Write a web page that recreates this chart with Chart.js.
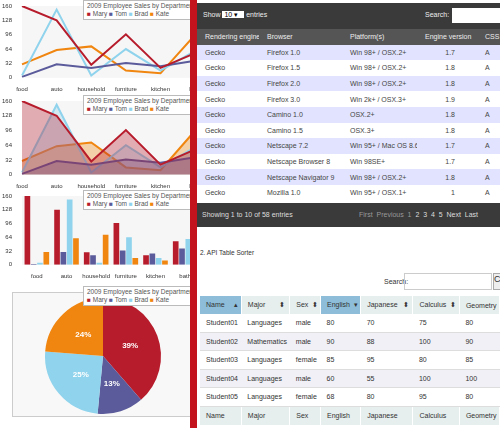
<!DOCTYPE html>
<html><head><meta charset="utf-8">
<script src="https://cdn.jsdelivr.net/npm/chart.js@4"></script>
<style>
body{margin:0;width:500px;height:428px;overflow:hidden;background:#fff;font-family:"Liberation Sans",Arial,sans-serif;position:relative}
.box{position:absolute;left:0;width:190px;overflow:hidden}
.box canvas{position:absolute;left:0;top:0}
.leg{position:absolute;background:#fff;border:1px solid #bbb;font-size:6.5px;color:#555;padding:1px 3px;line-height:8px;white-space:nowrap;z-index:3}
.red{position:absolute;left:190px;top:0;width:7px;height:428px;background:#c3141d}
.t1{position:absolute;left:197px;top:0;width:303px;height:228px;background:#fff;font-size:7px;overflow:hidden}
.bar1{position:absolute;left:0;top:3px;width:303px;height:26px;background:#3a3a3a;color:#eee}
table{border-collapse:collapse}
.dt{table-layout:fixed}
.dt td{height:15.6px;padding:0 0 0 8px;color:#444;white-space:nowrap;overflow:hidden}
.foot{position:absolute;left:0;top:203px;width:303px;height:24px;background:#3a3a3a;color:#ddd;font-size:7px}
.t2{position:absolute;left:197px;top:240px;width:303px;font-size:7px;color:#333}
.ts td{height:17.5px;padding:0 0 0 6px;white-space:nowrap;border-bottom:1px solid #ddd}
.ts th{font-weight:normal;text-align:left;padding:0 0 0 6px;height:18px;background:#e6eeee;border-right:1px solid #fff;white-space:nowrap}
</style></head><body>
<div class="box" style="top:0;height:93px"><canvas id="c1" width="201" height="93" style="width:201px;height:93px"></canvas>
<div class="leg" style="left:83px;top:0px">2009 Employee Sales by Department<br><span style="color:#b71c2c">■</span> Mary <span style="color:#5b5b9b">■</span> Tom <span style="color:#8fd3ec">■</span> Brad <span style="color:#f0850f">■</span> Kate</div></div>
<div class="box" style="top:95px;height:95px"><canvas id="c2" width="201" height="95" style="width:201px;height:95px"></canvas>
<div class="leg" style="left:83px;top:0px">2009 Employee Sales by Department<br><span style="color:#b71c2c">■</span> Mary <span style="color:#5b5b9b">■</span> Tom <span style="color:#8fd3ec">■</span> Brad <span style="color:#f0850f">■</span> Kate</div></div>
<div class="box" style="top:190px;height:90px"><canvas id="c3" width="200" height="90" style="width:200px;height:90px"></canvas>
<div class="leg" style="left:83px;top:0px">2009 Employee Sales by Department<br><span style="color:#b71c2c">■</span> Mary <span style="color:#5b5b9b">■</span> Tom <span style="color:#8fd3ec">■</span> Brad <span style="color:#f0850f">■</span> Kate</div></div>
<div class="box" style="top:280px;height:148px"><div style="position:absolute;left:12px;top:12px;width:185px;height:123px;background:#f8f8f8;border:1px solid #ccc"></div><canvas id="c4" width="190" height="148" style="width:190px;height:148px"></canvas>
<div class="leg" style="left:83px;top:6px">2009 Employee Sales by Department<br><span style="color:#b71c2c">■</span> Mary <span style="color:#5b5b9b">■</span> Tom <span style="color:#8fd3ec">■</span> Brad <span style="color:#f0850f">■</span> Kate</div></div>
<div class="red"></div>
<div class="t1">
<div class="bar1"><span style="position:absolute;left:6px;top:8px">Show <span style="background:#fff;color:#000;padding:0 6px 0 2px">10 ▾</span> entries</span><span style="position:absolute;left:228px;top:8px">Search:</span><span style="position:absolute;left:255px;top:5px;width:50px;height:15px;background:#fff"></span></div>
<table class="dt" style="position:absolute;left:0;top:29px;width:310px">
<colgroup><col style="width:62px"><col style="width:83px"><col style="width:75px"><col style="width:60px"><col style="width:30px"></colgroup>
<tr style="background:#555;color:#eee"><td style="color:#eee">Rendering engine &nbsp; ▴</td><td style="color:#eee">Browser</td><td style="color:#eee">Platform(s)</td><td style="color:#eee">Engine version</td><td style="color:#eee">CSS grade</td></tr>
<tbody id="rows"></tbody></table>
<div class="foot"><span style="position:absolute;left:5px;top:8px">Showing 1 to 10 of 58 entries</span><span style="position:absolute;left:162px;top:8px;color:#999">First &nbsp;Previous &nbsp;1 &nbsp;<span style="color:#ddd">2 &nbsp;3 &nbsp;4 &nbsp;5 &nbsp;Next &nbsp;Last</span></span></div>
</div>
<div class="t2">
<div style="position:absolute;left:3px;top:9px;font-size:6.5px">2. API Table Sorter</div>
<span style="position:absolute;left:187px;top:38px">Search:</span><span style="position:absolute;left:207px;top:33px;width:86px;height:15px;border:1px solid #ccc"></span><span style="position:absolute;left:296px;top:33px;width:10px;height:15px;border:1px solid #aaa;background:#eee;font-size:9px">C</span>
<table class="ts" style="position:absolute;left:3px;top:56px;width:300px">
<tr><th style="background:#8dbdd8">Name &nbsp; &nbsp; ▴</th><th>Major &nbsp; &nbsp; &nbsp; ⬍</th><th>Sex &nbsp;⬍</th><th style="background:#8dbdd8">English &nbsp;▾</th><th>Japanese &nbsp; ⬍</th><th>Calculus &nbsp;⬍</th><th>Geometry</th></tr>
<tbody id="rows2"></tbody>
<tr><th>Name</th><th>Major</th><th>Sex</th><th>English</th><th>Japanese</th><th>Calculus</th><th>Geometry</th></tr>
</table></div>
<script>
const categories=["food","auto","household","furniture","kitchen","bath"];
const mary=[160,128,29,97,22,55];
const tom=[2,30,22,33,26,38];
const brad=[5,152,5,64,16,60];
const kate=[30,62,70,16,10,96];
const yTicks=[0,32,64,96,128,160];
const pieLabels=["Mary","Tom","Brad","Kate"];
const pieValues=[39,13,25,24];
const colors=["#b71c2c","#5b5b9b","#8fd3ec","#f0850f"];
const engines=[["Gecko","Firefox 1.0","Win 98+ / OSX.2+","1.7","A"],["Gecko","Firefox 1.5","Win 98+ / OSX.2+","1.8","A"],["Gecko","Firefox 2.0","Win 98+ / OSX.2+","1.8","A"],["Gecko","Firefox 3.0","Win 2k+ / OSX.3+","1.9","A"],["Gecko","Camino 1.0","OSX.2+","1.8","A"],["Gecko","Camino 1.5","OSX.3+","1.8","A"],["Gecko","Netscape 7.2","Win 95+ / Mac OS 8.6-9.2","1.7","A"],["Gecko","Netscape Browser 8","Win 98SE+","1.7","A"],["Gecko","Netscape Navigator 9","Win 98+ / OSX.2+","1.8","A"],["Gecko","Mozilla 1.0","Win 95+ / OSX.1+","1","A"]];
const students=[["Student01","Languages","male","80","70","75","80"],["Student02","Mathematics","male","90","88","100","90"],["Student03","Languages","female","85","95","80","85"],["Student04","Languages","male","60","55","100","100"],["Student05","Languages","female","68","80","95","80"]];
let h='';engines.forEach((r,i)=>{h+=`<tr style="background:${i%2?'#fff':'#e2e4ff'}"><td>${r[0]}</td><td>${r[1]}</td><td>${r[2]}</td><td style="text-align:right;padding-right:22px">${r[3]}</td><td>${r[4]}</td></tr>`});
document.getElementById('rows').innerHTML=h;
h='';students.forEach((r,i)=>{h+=`<tr style="background:${i%2?'#f0f0f6':'#fff'}">`+r.map(c=>`<td>${c}</td>`).join('')+'</tr>'});
document.getElementById('rows2').innerHTML=h;
Chart.defaults.font.family='"Liberation Sans",Arial';Chart.defaults.font.size=6;Chart.defaults.color='#333';
const bg={id:'bg',beforeDraw(c){const a=c.chartArea,x=c.ctx;if(!a)return;x.save();x.fillStyle='#f6f6f6';x.fillRect(a.left,a.top,a.right-a.left,a.bottom-a.top);x.restore();}};
function scales(offset){return{x:{offset:offset,grid:{display:false},border:{display:false},ticks:{autoSkip:false,maxRotation:0,padding:0}},y:{min:0,max:160,afterBuildTicks:s=>{s.ticks=yTicks.map(v=>({value:v}))},grid:{display:false},border:{display:false},ticks:{padding:2}}}}
const series=[mary,tom,brad,kate];
function lineDs(fill){return series.map((d,i)=>({label:pieLabels[i],data:d,borderColor:colors[i],backgroundColor:colors[i]+'55',borderWidth:2,pointRadius:0,tension:0,fill:fill?'origin':false}))}
const base={responsive:false,animation:false,plugins:{legend:{display:false},tooltip:{enabled:false}},layout:{padding:{top:6,right:0,left:0,bottom:0}}};
new Chart('c1',{type:'line',data:{labels:categories,datasets:lineDs(false)},options:{...base,scales:scales(false)},plugins:[bg]});
new Chart('c2',{type:'line',data:{labels:categories,datasets:lineDs(true)},options:{...base,scales:scales(false)},plugins:[bg]});
new Chart('c3',{type:'bar',data:{labels:categories,datasets:series.map((d,i)=>({label:pieLabels[i],data:d,backgroundColor:colors[i],barPercentage:0.9,categoryPercentage:0.85}))},options:{...base,scales:scales(true)},plugins:[bg]});
const lbl={id:'lbl',afterDatasetsDraw(c){const x=c.ctx;const m=c.getDatasetMeta(0);x.save();x.fillStyle='#fff';x.font='bold 8px "Liberation Sans"';x.textAlign='center';x.textBaseline='middle';m.data.forEach((a,i)=>{const p=a.tooltipPosition();x.fillText(pieValues[i]+'%',p.x,p.y)});x.restore();}};
new Chart('c4',{type:'pie',data:{labels:pieLabels,datasets:[{data:pieValues,backgroundColor:colors,borderWidth:0}]},options:{...base,layout:{padding:{top:18,bottom:14,left:45,right:29}}},plugins:[lbl]});
</script></body></html>
